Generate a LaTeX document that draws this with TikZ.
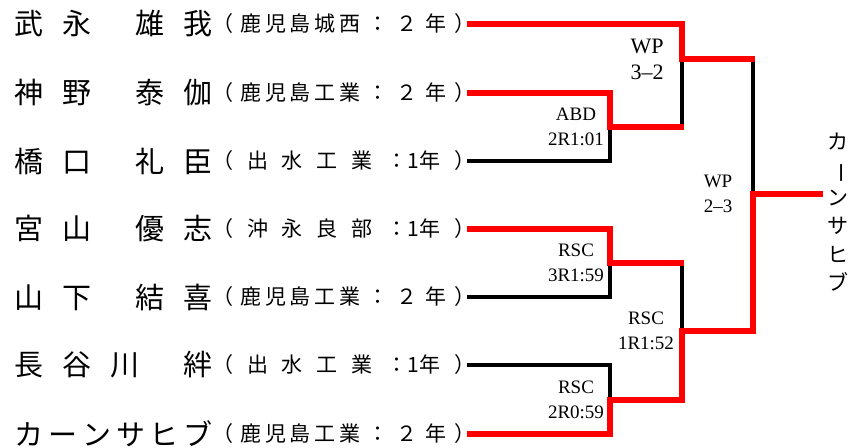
\documentclass[tikz,border=0pt]{standalone}
\usepackage{fontspec}
\usepackage{graphicx}
\setmainfont{Liberation Serif}
\newfontfamily\jp{Noto Sans CJK JP}
\usetikzlibrary{calc}

\tikzset{
  lose/.style={line width=3.2bp,black},
  won/.style={line width=5.5bp,red},
  res/.style={align=center,inner sep=0pt,font=\fontsize{19bp}{25bp}\selectfont},
  bigres/.style={res,font=\fontsize{22bp}{26bp}\selectfont},
  nm/.style={anchor=west,inner sep=0pt,font=\jp\fontsize{29bp}{29bp}\selectfont},
  sch/.style={anchor=west,inner sep=0pt,font=\jp\fontsize{21bp}{21bp}\selectfont},
  champ/.style={align=center,inner sep=0pt,font=\jp\fontsize{21bp}{28.2bp}\selectfont}
}
\newcommand\gap{\hspace{19bp}}
\newcommand\sep{\hspace{44bp}}

\begin{document}
\begin{tikzpicture}[x=1bp,y=-1bp]
\useasboundingbox (0,0) rectangle (862,448);

\node[nm] (e1) at (14.5,24) {武\gap 永\sep 雄\gap 我};
\node[nm] (e2) at (14.5,93) {神\gap 野\sep 泰\gap 伽};
\node[nm] (e3) at (14.5,161) {橋\gap 口\sep 礼\gap 臣};
\node[nm] (e4) at (14.5,229) {宮\gap 山\sep 優\gap 志};
\node[nm] (e5) at (14.5,297) {山\gap 下\sep 結\gap 喜};
\node[nm] (e6) at (14.5,365) {長\gap 谷\gap 川\sep 絆};
\node[nm] (e7) at (14.5,434) {カ\hspace{4.8bp}ー\hspace{4.8bp}ン\hspace{4.8bp}サ\hspace{4.8bp}ヒ\hspace{4.8bp}ブ};

\node[sch] (s1) at (212,24) {\makebox[263bp][s]{（\hfill 鹿\,児\,島\,城\,西\hfill ：\hfill ２\hfill 年\hfill ）}};
\node[sch] (s2) at (212,93) {\makebox[263bp][s]{（\hfill 鹿\,児\,島\,工\,業\hfill ：\hfill ２\hfill 年\hfill ）}};
\node[sch] (s3) at (212,161) {\makebox[263bp][s]{（\hfill 出\hfill 水\hfill 工\hfill 業\hfill ：1年\hfill ）}};
\node[sch] (s4) at (212,229) {\makebox[263bp][s]{（\hfill 沖\hfill 永\hfill 良\hfill 部\hfill ：1年\hfill ）}};
\node[sch] (s5) at (212,297) {\makebox[263bp][s]{（\hfill 鹿\,児\,島\,工\,業\hfill ：\hfill ２\hfill 年\hfill ）}};
\node[sch] (s6) at (212,365) {\makebox[263bp][s]{（\hfill 出\hfill 水\hfill 工\hfill 業\hfill ：1年\hfill ）}};
\node[sch] (s7) at (212,434) {\makebox[263bp][s]{（\hfill 鹿\,児\,島\,工\,業\hfill ：\hfill ２\hfill 年\hfill ）}};

\coordinate (p1) at (467,24);
\coordinate (p2) at (467,93);
\coordinate (p3) at (467,161);
\coordinate (p4) at (467,229);
\coordinate (p5) at (467,297);
\coordinate (p6) at (467,365);
\coordinate (p7) at (467,434);

\coordinate (jA) at (610,127);
\coordinate (jB) at (682,59);
\coordinate (jC) at (610,263);
\coordinate (jD) at (610,400);
\coordinate (jE) at (682,331);
\coordinate (jF) at (753,194);
\coordinate (fin) at (823,194);

\draw[lose] (p3) -| (jA);
\draw[lose] (p5) -| (jC);
\draw[lose] (p6) -| (jD);
\draw[lose] (jA -| jB) -- (jB);
\draw[lose] (jC -| jE) -- (jE);
\draw[lose] (jB -| jF) -- (jF);

\draw[won] (p1) -| (jB) -- ($(jB -| jF)+(1.6,0)$);
\draw[won] (p2) -| (jA) -- ($(jA -| jB)+(1.6,0)$);
\draw[won] (p4) -| (jC) -- ($(jC -| jE)+(1.6,0)$);
\draw[won] (p7) -| (jD) -- (jD -| jE) -- (jE) -- (jE -| jF) -- (jF) -- (fin);

\node[bigres] (rB) at ([xshift=-35bp]jB) {WP\\3\textendash 2};
\node[res] (rA) at ([xshift=-34bp]jA) {ABD\\2R1:01};
\node[res] (rF) at ([xshift=-35bp]jF) {WP\\2\textendash 3};
\node[res] (rC) at ([xshift=-34bp]jC) {RSC\\3R1:59};
\node[res] (rE) at ([xshift=-36bp]jE) {RSC\\1R1:52};
\node[res] (rD) at ([xshift=-34bp]jD) {RSC\\2R0:59};

\node[champ] (w) at (838,212) {カ\\\rotatebox[origin=c]{-90}{ー}\\ン\\サ\\ヒ\\ブ};

\end{tikzpicture}
\end{document}
